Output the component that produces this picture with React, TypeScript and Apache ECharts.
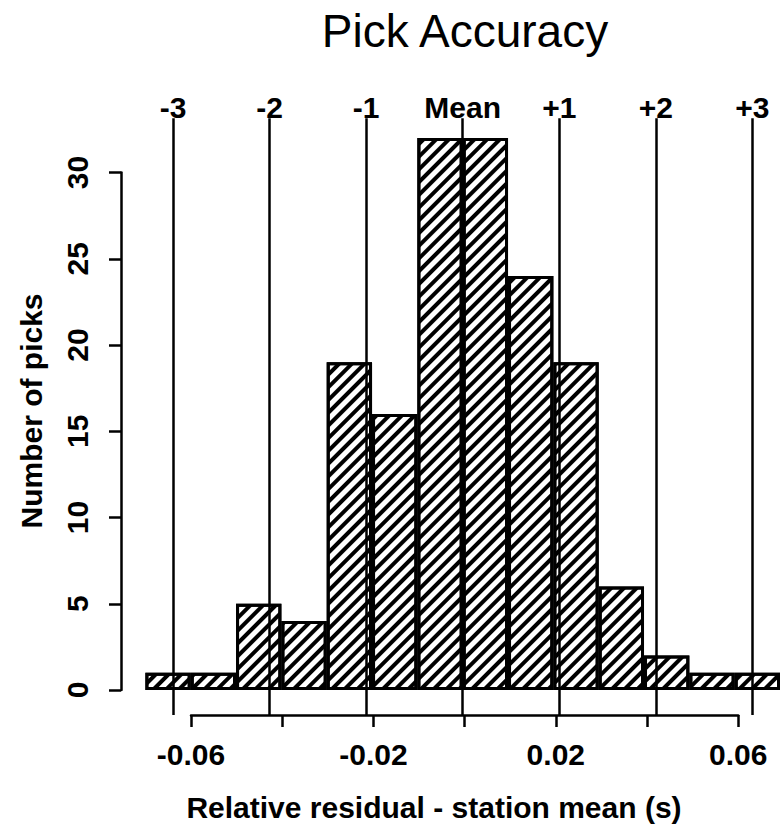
import React, { useEffect, useRef } from "react";
import * as echarts from "echarts";

// Histogram bins (left edge of each 0.01 s bin) and counts
const binStarts = ["-0.07", "-0.06", "-0.05", "-0.04", "-0.03", "-0.02", "-0.01", "0.00", "0.01", "0.02", "0.03", "0.04", "0.05", "0.06"];
const counts = [1, 1, 5, 4, 19, 16, 32, 32, 24, 19, 6, 2, 1, 1];

// Mean and standard deviation marker lines
const residualMean = 0.0;
const residualSd = 0.0213;
const sdMultiples = [-3, -2, -1, 0, 1, 2, 3];
const sdLabels = ["-3", "-2", "-1", "Mean", "+1", "+2", "+3"];

// Axis tick labels shown on the x axis
const xTickLabels = ["-0.06", "-0.02", "0.02", "0.06"];

const FONT = "'Liberation Sans', Arial, Helvetica, sans-serif";

export default function App() {
  const ref = useRef<HTMLDivElement>(null);

  useEffect(() => {
    if (!ref.current) return;
    const chart = echarts.init(ref.current, null, { renderer: "svg" });

    const lineBottom = -1.45;
    const lineTop = 33.15;

    const option: any = {
      animation: false,
      backgroundColor: "#fff",
      grid: [
        { left: 145.4, width: 638.8, top: 118.2, height: 596.85 },
        { left: 191, width: 547.2, top: 700, height: 15 },
        { left: 121, width: 10, top: 172.5, height: 517.5 },
      ],
      xAxis: [
        { type: "category", gridIndex: 0, data: binStarts, show: false },
        { type: "value", gridIndex: 0, min: -0.07, max: 0.07, show: false },
        {
          type: "value",
          gridIndex: 1,
          min: -0.06,
          max: 0.06,
          interval: 0.02,
          position: "bottom",
          axisLine: { show: true, lineStyle: { color: "#000", width: 2.5 } },
          axisTick: { show: true, length: 12, lineStyle: { color: "#000", width: 2.5 } },
          splitLine: { show: false },
          axisLabel: {
            margin: 24,
            fontFamily: FONT,
            fontSize: 30,
            fontWeight: "bold",
            color: "#000",
            formatter: (v: number) => {
              const s = (Math.round(v * 100) / 100).toFixed(2);
              return xTickLabels.indexOf(s) >= 0 ? s : "";
            },
          },
        },
        { type: "value", gridIndex: 2, show: false },
      ],
      yAxis: [
        { type: "value", gridIndex: 0, min: lineBottom, max: lineTop, show: false },
        { type: "value", gridIndex: 1, min: 0, max: 1, show: false },
        {
          type: "value",
          gridIndex: 2,
          min: 0,
          max: 30,
          interval: 5,
          position: "left",
          axisLine: { show: true, lineStyle: { color: "#000", width: 2.5 } },
          axisTick: { show: true, length: 12, lineStyle: { color: "#000", width: 2.5 } },
          splitLine: { show: false },
          axisLabel: {
            rotate: 90,
            margin: 29,
            fontFamily: FONT,
            fontSize: 30,
            fontWeight: "bold",
            color: "#000",
          },
        },
      ],
      series: [
        {
          type: "bar",
          xAxisIndex: 0,
          yAxisIndex: 0,
          data: counts,
          barWidth: "100%",
          z: 2,
          itemStyle: {
            color: "#fff",
            borderColor: "#000",
            borderWidth: 3,
            decal: {
              symbol: "rect",
              symbolSize: 1,
              dashArrayX: [1, 0],
              dashArrayY: [4, 4.8],
              rotation: -Math.PI / 4,
              color: "#000",
              backgroundColor: "#fff",
            },
          },
        },
        {
          type: "line",
          xAxisIndex: 1,
          yAxisIndex: 0,
          data: [],
          z: 5,
          markLine: {
            silent: true,
            symbol: ["none", "none"],
            animation: false,
            lineStyle: { color: "#000", width: 2.5, type: "solid" },
            label: {
              show: true,
              position: "end",
              distance: -4,
              formatter: "{b}",
              fontFamily: FONT,
              fontSize: 30,
              fontWeight: "bold",
              color: "#000",
            },
            data: sdMultiples.map((k, i) => [
              { coord: [residualMean + k * residualSd, lineBottom], name: sdLabels[i] },
              { coord: [residualMean + k * residualSd, lineTop] },
            ]),
          },
        },
      ],
      graphic: [
        {
          type: "text",
          x: 465,
          y: 31,
          style: {
            text: "Pick Accuracy",
            font: `normal 46px ${FONT}`,
            fill: "#000",
            align: "center",
            verticalAlign: "middle",
          },
        },
        {
          type: "text",
          x: 434,
          y: 807,
          style: {
            text: "Relative residual - station mean (s)",
            font: `bold 30px ${FONT}`,
            fill: "#000",
            align: "center",
            verticalAlign: "middle",
          },
        },
        {
          type: "text",
          x: 31,
          y: 411,
          rotation: Math.PI / 2,
          style: {
            text: "Number of picks",
            font: `bold 30px ${FONT}`,
            fill: "#000",
            align: "center",
            verticalAlign: "middle",
          },
        },
      ],
    };

    chart.setOption(option);
    return () => chart.dispose();
  }, []);

  return (
    <div
      ref={ref}
      style={{ position: "absolute", left: 0, top: 0, width: 780, height: 833 }}
    />
  );
}
